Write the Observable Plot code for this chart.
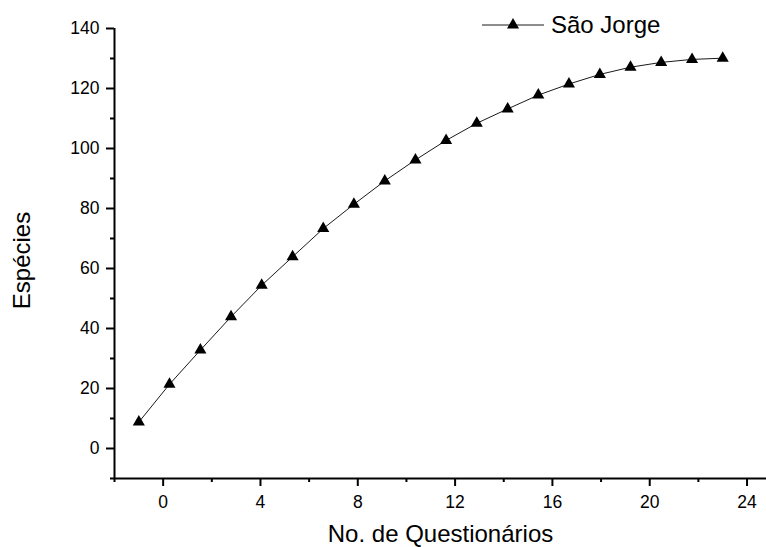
<!DOCTYPE html>
<html>
<head>
<meta charset="utf-8">
<script src="https://cdn.jsdelivr.net/npm/d3@7"></script>
<script src="https://cdn.jsdelivr.net/npm/@observablehq/plot@0.6"></script>
<style>
  html, body { margin: 0; padding: 0; background: #fff; }
  #chart { position: relative; width: 766px; height: 547px; font-family: "Liberation Sans", Arial, sans-serif; }
  #legend { position: absolute; left: 481px; top: 10px; display: flex; align-items: center; font-size: 24px; color: #000; }
  #legend span { margin-left: 6px; line-height: 30px; }
</style>
</head>
<body>
<div id="chart"><div id="legend"></div></div>
<script>
// Species accumulation curve for São Jorge
const seriesName = "São Jorge";
const questionarios = [-1, 0.26, 1.53, 2.79, 4.05, 5.32, 6.58, 7.84, 9.11, 10.37, 11.63, 12.89, 14.16, 15.42, 16.68, 17.95, 19.21, 20.47, 21.74, 23];
const especies = [8.8, 21.4, 32.8, 43.9, 54.4, 63.9, 73.3, 81.4, 89.2, 96.2, 102.7, 108.4, 113.2, 117.8, 121.5, 124.7, 127.1, 128.7, 129.7, 130.1];

const xMajorTicks = [0, 4, 8, 12, 16, 20, 24];
const xMinorTicks = [-2, 2, 6, 10, 14, 18, 22];
const yMajorTicks = [0, 20, 40, 60, 80, 100, 120, 140];
const yMinorTicks = [-10, 10, 30, 50, 70, 90, 110, 130];

const xTitle = "No. de Questionários";
const yTitle = "Espécies";

const data = questionarios.map((q, i) => ({q, s: especies[i]}));

const font = "Liberation Sans, Arial, sans-serif";

const chart = Plot.plot({
  width: 766,
  height: 547,
  marginLeft: 114,
  marginRight: 0,
  marginTop: 28,
  marginBottom: 69,
  style: {fontFamily: font, fontSize: "17.5px", background: "white", color: "black", overflow: "visible"},
  x: {domain: [-2, 24.8]},
  y: {domain: [-10, 140]},
  marks: [
    // major and minor ticks, outward
    Plot.axisX({ticks: xMajorTicks, tickSize: 8, tickPadding: 9, fontSize: 17.5, strokeWidth: 2, label: null, tickFormat: d => String(d)}),
    Plot.axisX({ticks: xMinorTicks, tickSize: 4, strokeWidth: 2, label: null, tickFormat: () => ""}),
    Plot.axisY({ticks: yMajorTicks, tickSize: 8, tickPadding: 7, fontSize: 17.5, strokeWidth: 2, label: null, tickFormat: d => String(d)}),
    Plot.axisY({ticks: yMinorTicks, tickSize: 4, strokeWidth: 2, label: null, tickFormat: () => ""}),
    // axis lines
    Plot.ruleY([-10], {stroke: "black", strokeWidth: 2}),
    Plot.ruleX([-2], {stroke: "black", strokeWidth: 2}),
    // axis titles
    Plot.text([xTitle], {frameAnchor: "bottom", lineAnchor: "bottom", textAnchor: "middle", dy: 63, fontSize: 24, fill: "black"}),
    Plot.text([yTitle], {frameAnchor: "left", textAnchor: "middle", lineAnchor: "middle", dx: -92, dy: 7, rotate: -90, fontSize: 24, fill: "black"}),
    // the series
    Plot.line(data, {x: "q", y: "s", stroke: "black", strokeWidth: 0.9}),
    Plot.dot(data, {x: "q", y: "s", symbol: "triangle", r: 4.5, fill: "black", stroke: "none"})
  ]
});

document.getElementById("chart").prepend(chart);

// legend: line with triangle marker, then the series name
const legend = d3.select("#legend");
const sw = legend.append("svg").attr("width", 64).attr("height", 30);
sw.append("line").attr("x1", 1).attr("x2", 63).attr("y1", 15).attr("y2", 15).attr("stroke", "black").attr("stroke-width", 0.9);
sw.append("path").attr("d", d3.symbol(d3.symbolTriangle, Math.PI * 4.5 * 4.5)()).attr("transform", "translate(32,15)").attr("fill", "black");
legend.append("span").text(seriesName);
</script>
</body>
</html>
